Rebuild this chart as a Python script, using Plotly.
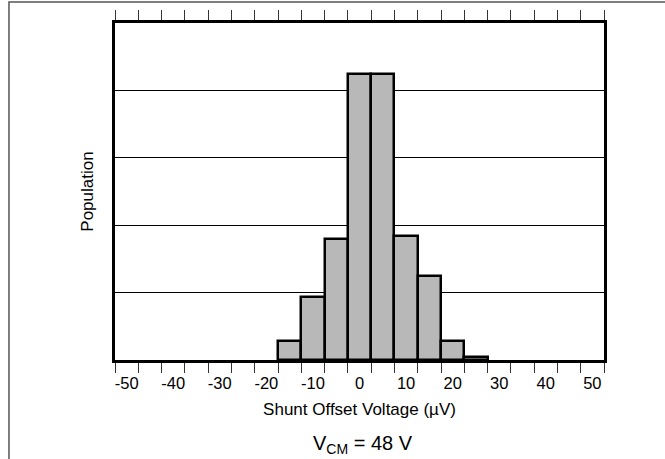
import plotly.graph_objects as go

# Histogram bins (bin centres in µV) and relative population (gridline units)
bin_centers = [-15, -10, -5, 0, 5, 10, 15, 20, 25]
population = [0.28, 0.94, 1.79, 4.245, 4.245, 1.84, 1.24, 0.28, 0.05]

# All bin centres shown on the axis, and the labels
all_bins = list(range(-50, 55, 5))
tick_vals = list(range(-50, 60, 10))
tick_text = [str(v) for v in tick_vals]
bin_edges = [c - 2.5 for c in all_bins] + [all_bins[-1] + 2.5]

FONT = "Liberation Sans, Arial, sans-serif"

fig = go.Figure()
fig.add_trace(go.Bar(
    x=bin_centers, y=population, width=5,
    marker=dict(color="#b8b8b8", line=dict(color="black", width=2.5)),
    showlegend=False,
))

fig.update_layout(
    width=665, height=459,
    margin=dict(l=115, r=61, t=23, b=99),
    paper_bgcolor="white", plot_bgcolor="white",
    font=dict(family=FONT, color="black", size=16),
    bargap=0,
    xaxis=dict(
        range=[-52.5, 52.5],
        tickmode="array", tickvals=tick_vals, ticktext=tick_text,
        ticks="outside", ticklen=6, tickcolor="rgba(0,0,0,0)",
        tickfont=dict(size=16.5),
        minor=dict(tickmode="array", tickvals=bin_edges, ticks="outside",
                   ticklen=10, tickwidth=1, tickcolor="#333333"),
        showgrid=False, zeroline=False,
        showline=True, linecolor="black", linewidth=3, mirror="ticks",
        title=dict(text="Shunt Offset Voltage (µV)", font=dict(size=17), standoff=13),
    ),
    yaxis=dict(
        range=[0, 5], tickvals=[1, 2, 3, 4], showticklabels=False, ticks="",
        showgrid=True, gridcolor="black", gridwidth=1, zeroline=False,
        showline=True, linecolor="black", linewidth=3, mirror=True,
        title=dict(text="Population", font=dict(size=17), standoff=15),
    ),
    shapes=[dict(type="rect", xref="paper", yref="paper",
                 x0=-0.2168, x1=1.14, y0=-0.33, y1=1.0623,
                 line=dict(color="#555555", width=1.5), layer="below")],
    annotations=[dict(text="V<sub>CM</sub> = 48 V", xref="paper", yref="paper",
                      x=0.507, y=-0.25, showarrow=False,
                      font=dict(size=20), xanchor="center", yanchor="middle")],
)

fig.write_html("out.html", config={"displayModeBar": False},
               post_script="document.body.style.margin='0';document.body.style.overflow='hidden';")
